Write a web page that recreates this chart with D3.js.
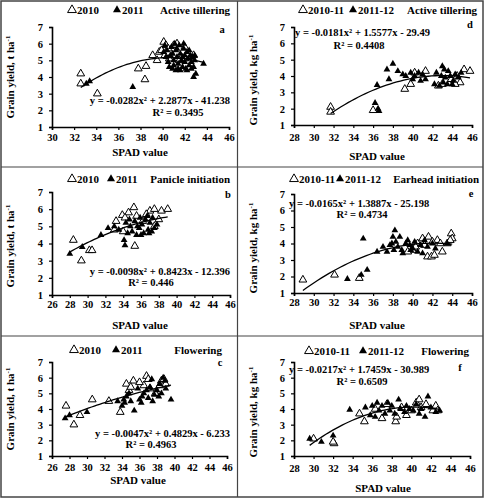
<!DOCTYPE html>
<html><head><meta charset="utf-8">
<script src="https://cdn.jsdelivr.net/npm/d3@7"></script>
<style>body{margin:0;background:#fff}svg text{font-family:"Liberation Serif","Times New Roman",serif;font-weight:bold;fill:#000}</style>
</head><body><svg id="c" width="485" height="500"></svg>
<script>
// ---------- DATA ----------
const xTicksA = [30,32,34,36,38,40,42,44,46];
const xTicksB = [26,28,30,32,34,36,38,40,42,44,46];
const xTicksD = [28,30,32,34,36,38,40,42,44,46];
const yTicks = [1,2,3,4,5,6,7];

// Panel a (Active tillering, 2010 / 2011)
const a2010 = [[32.6,4.2],[32.6,3.6],[34.1,3.0],[37.8,4.5],[38.5,4.65],[38.4,3.85],[39.1,5.3],[39.5,5.0],[39.7,5.5],
  [40.1,6.1],[40.3,5.9],[40.5,5.7],[40.2,5.3],[39.9,5.6],[40.6,5.1],[41.0,5.9],[41.3,6.0],[42.0,5.8],[42.8,5.3],[42.0,5.1],[41.5,5.0]];
const a2011 = [[33.1,3.6],[33.4,3.75],[37.3,3.4],
  [40.2,5.9],[40.4,5.6],[40.3,5.2],[40.5,4.9],[40.6,4.6],[40.8,5.8],[40.9,5.4],[41.0,5.0],[41.0,4.7],[41.1,6.0],[41.2,5.6],
  [41.3,5.2],[41.4,4.8],[41.4,4.5],[41.5,5.9],[41.6,5.4],[41.7,5.0],[41.8,4.6],[41.9,5.7],[42.0,5.3],[42.0,4.9],[42.1,4.5],
  [41.9,6.0],[42.2,5.5],[42.3,5.1],[42.4,4.7],[42.5,5.3],[42.6,4.9],[42.7,5.2],[42.8,4.6],[42.9,5.0],[42.8,4.0],[43.0,4.2],
  [43.7,4.8],[41.2,4.4],[40.7,5.3],[41.6,4.4],[42.2,4.4],[42.9,5.3],[40.1,5.5],[41.3,5.7],[42.4,5.6],[42.6,4.5],[40.9,4.5],[41.8,5.2]];

// Panel d (Active tillering, 2010-11 / 2011-12)
const d2010 = [[31.7,2.1],[31.7,1.8],[36.0,1.9],[39.2,3.2],[39.8,3.5],[41.3,4.3],[45.2,4.4],[45.8,4.3],[44.5,4.0],[44.8,3.6],
  [43.0,3.5],[42.6,3.4],[40.2,4.2],[43.9,3.8],[44.3,3.5]];
const d2011 = [[36.2,2.35],[36.5,2.0],[36.6,1.85],[36.4,3.45],[37.4,4.4],[37.6,3.8],[38.0,4.75],[38.5,4.3],[39.0,4.1],[39.3,4.0],
  [39.8,4.2],[40.2,4.0],[40.6,4.2],[40.8,3.7],[41.3,3.8],[42.2,3.5],[42.4,4.2],[42.7,3.4],[43.0,4.6],[43.2,4.4],[43.3,3.9],
  [43.5,3.5],[43.8,4.0],[44.1,3.7],[44.3,4.1],[44.6,3.9],[44.9,4.2],[43.1,3.6],[42.9,4.0],[43.6,4.3],[44.0,3.5],[40.0,3.8],[41.0,4.1]];

// Panel b (Panicle initiation, 2010 / 2011)
const b2010 = [[28.4,4.2],[29.3,3.0],[30.2,3.6],[30.5,3.6],[33.2,5.3],[33.9,5.65],[34.6,5.8],[35.2,6.1],[35.3,3.85],[37.0,5.9],
  [37.5,6.0],[38.3,5.9],[39.0,6.0],[38.0,5.4],[36.2,5.3],[37.5,5.0],[34.2,5.5],[35.5,5.6],[36.6,5.7],[34.0,4.7],[33.0,4.8]];
const b2011 = [[28.0,3.4],[29.4,3.8],[31.5,4.5],[32.3,4.9],[33.0,5.0],[33.5,4.8],[34.2,3.9],[34.1,4.2],[34.5,4.6],[34.8,5.0],
  [35.0,4.7],[35.3,5.3],[35.5,4.5],[35.8,4.9],[36.1,5.1],[36.3,4.6],[36.5,5.4],[36.7,5.6],[36.8,4.8],[37.0,5.2],[37.2,4.7],
  [37.3,5.5],[37.5,4.9],[37.8,5.1],[36.0,4.5],[34.7,5.4],[35.6,5.0],[36.9,4.6],[34.3,5.2],[35.9,5.5]];

// Panel e (Earhead initiation, 2010-11 / 2011-12)
const e2010 = [[28.9,1.8],[32.1,2.1],[34.6,1.9],[41.5,3.2],[41.9,3.2],[42.2,3.3],[43.0,3.5],[43.9,4.6],[44.0,4.3],[43.5,4.0],
  [42.5,4.2],[41.6,4.4],[40.5,4.0],[40.0,3.6],[42.0,4.1],[41.0,4.3],[39.5,3.5],[40.3,3.8],[43.8,4.2],[42.8,4.0],[41.2,3.9]];
const e2011 = [[33.4,1.85],[35.0,4.3],[34.8,2.1],[35.4,2.4],[36.4,3.5],[37.0,3.8],[37.4,3.5],[37.7,3.9],[38.0,4.4],[38.2,4.8],
  [38.3,4.1],[38.5,3.8],[38.7,4.4],[38.9,3.6],[39.0,3.4],[39.3,4.0],[39.5,4.2],[39.7,3.9],[40.0,3.7],[40.2,4.1],[40.5,3.5],
  [40.8,3.9],[41.0,3.4],[41.2,4.2],[41.5,3.8],[42.0,4.0],[42.3,3.7],[43.5,4.0],[37.9,4.0],[38.1,3.6],[39.8,3.6]];

// Panel c (Flowering, 2010 / 2011)
const c2010 = [[27.6,4.2],[28.5,3.0],[29.2,3.6],[30.6,4.6],[32.5,4.5],[33.8,3.8],[34.5,5.6],[35.3,5.8],[36.8,6.1],[36.5,5.5],
  [37.2,5.3],[38.5,5.8],[38.8,5.9],[38.3,5.5],[37.8,5.0],[36.0,5.7],[34.8,5.2],[39.0,5.6],[35.0,5.4],[37.0,5.9]];
const c2011 = [[27.5,3.4],[28.0,3.6],[30.0,3.8],[33.5,4.5],[34.0,4.2],[34.2,4.6],[34.5,4.8],[34.8,5.0],[35.0,4.5],[35.4,3.9],
  [36.0,4.6],[36.3,4.8],[36.5,5.0],[36.8,5.2],[37.0,4.7],[37.2,5.4],[37.5,4.5],[37.7,4.9],[38.0,5.2],[38.3,5.6],[38.5,5.0],
  [38.7,6.0],[38.9,5.8],[39.0,5.3],[39.6,4.6],[37.4,5.9],[36.2,4.4],[35.8,5.3],[38.2,4.8],[34.3,4.4]];

// Panel f (Flowering, 2010-11 / 2011-12)
const f2010 = [[30.0,2.1],[32.1,1.8],[32.0,1.9],[34.7,3.7],[35.2,3.2],[37.0,3.4],[38.4,3.2],[38.5,3.5],[39.5,3.6],[40.5,4.4],
  [40.8,4.6],[41.5,4.3],[42.2,3.9],[42.5,4.2],[42.7,3.9],[36.3,4.0],[37.5,4.3],[39.0,4.1],[40.0,3.9],[41.0,4.1]];
const f2011 = [[29.6,2.1],[30.8,1.9],[32.0,2.3],[33.7,3.95],[35.3,4.1],[35.8,3.6],[36.0,4.2],[36.3,3.5],[36.7,3.9],[37.0,4.2],
  [37.3,3.7],[37.6,4.4],[37.8,3.9],[38.0,4.2],[38.3,3.7],[38.7,4.6],[38.9,4.0],[39.3,3.8],[39.5,4.2],[39.8,4.0],[40.2,3.9],
  [40.5,4.3],[41.0,4.0],[41.4,3.5],[41.7,4.8],[42.0,4.1],[42.5,3.8],[42.9,3.9],[36.5,4.4],[40.8,3.7]];

// Quadratic fit coefficients [a, b, c] and labels
const fitA = [-0.0282, 2.2877, -41.238], fitD = [-0.0181, 1.5577, -29.49];
const fitB = [-0.0098, 0.8423, -12.396], fitE = [-0.0165, 1.3887, -25.198];
const fitC = [-0.0047, 0.4829, -6.233], fitF = [-0.0217, 1.7459, -30.989];
const eqA = "y = -0.0282x² + 2.2877x - 41.238", r2A = "R² = 0.3495";
const eqD = "y = -0.0181x² + 1.5577x - 29.49", r2D = "R² = 0.4408";
const eqB = "y = -0.0098x² + 0.8423x - 12.396", r2B = "R² = 0.446";
const eqE = "y = -0.0165x² + 1.3887x - 25.198", r2E = "R² = 0.4734";
const eqC = "y = -0.0047x² + 0.4829x - 6.233", r2C = "R² = 0.4963";
const eqF = "y = -0.0217x² + 1.7459x - 30.989", r2F = "R² = 0.6509";
const stages = ["Active tillering","Active tillering","Panicle initiation","Earhead initiation","Flowering","Flowering"];
const seriesT = ["2010","2011"], seriesK = ["2010-11","2011-12"];

// ---------- LAYOUT ----------
const svg = d3.select("#c");
svg.append("rect").attr("x",1).attr("y",1).attr("width",482).attr("height",496).attr("fill","none").attr("stroke","#444").attr("stroke-width",1.5);
svg.append("line").attr("x1",237.5).attr("x2",237.5).attr("y1",1).attr("y2",497).attr("stroke","#444").attr("stroke-width",1.2);
svg.append("line").attr("x1",1).attr("x2",483).attr("y1",167).attr("y2",167).attr("stroke","#444").attr("stroke-width",1.2);
svg.append("line").attr("x1",1).attr("x2",483).attr("y1",336).attr("y2",336).attr("stroke","#444").attr("stroke-width",1.2);

const panels = [
 {open:a2010, fill:a2011, fit:fitA, eq:eqA, r2:r2A, stage:stages[0], letter:"a", ser:seriesT, unit:"t", xt:xTicksA,
  ax:[52,229], ay:[127,27], legY:13, leg:[[72,"o"],[117,"f"]], stX:230, letXY:[222,33], eqXY:[230,104,"end"], r2XY:[178,116],
  yTitle:[14,77], xTitle:[140,156], lblY:139},
 {open:d2010, fill:d2011, fit:fitD, eq:eqD, r2:r2D, stage:stages[1], letter:"d", ser:seriesK, unit:"kg", xt:xTicksD,
  ax:[294,472], ay:[125,27], legY:13, leg:[[303,"o"],[353,"f"]], stX:477, letXY:[470,28], eqXY:[295,36,"start"], r2XY:[359,49],
  yTitle:[257,80], xTitle:[377,160], lblY:139},
 {open:b2010, fill:b2011, fit:fitB, eq:eqB, r2:r2B, stage:stages[2], letter:"b", ser:seriesT, unit:"t", xt:xTicksB,
  ax:[52,230], ay:[295,192], legY:182, leg:[[72,"o"],[111,"f"]], stX:230, letXY:[228,198], eqXY:[230,275,"end"], r2XY:[151,286],
  yTitle:[14,246], xTitle:[140,329], lblY:306},
 {open:e2010, fill:e2011, fit:fitE, eq:eqE, r2:r2E, stage:stages[3], letter:"e", ser:seriesK, unit:"kg", xt:xTicksD,
  ax:[294,472], ay:[293,194], legY:182, leg:[[294,"o"],[340,"f"]], stX:479, letXY:[471,197], eqXY:[289,207,"start"], r2XY:[362,218],
  yTitle:[257,248], xTitle:[377,329], lblY:304},
 {open:c2010, fill:c2011, fit:fitC, eq:eqC, r2:r2C, stage:stages[4], letter:"c", ser:seriesT, unit:"t", xt:xTicksB,
  ax:[52,227], ay:[456,362], legY:353, leg:[[74,"o"],[116,"f"]], stX:222, letXY:[220,366], eqXY:[230,437,"end"], r2XY:[151,448],
  yTitle:[14,409], xTitle:[138,484], lblY:469},
 {open:f2010, fill:f2011, fit:fitF, eq:eqF, r2:r2F, stage:stages[5], letter:"f", ser:seriesK, unit:"kg", xt:xTicksD,
  ax:[294,470], ay:[456,362], legY:354, leg:[[309,"o"],[363,"f"]], stX:469, letXY:[460,371], eqXY:[289,373,"start"], r2XY:[362,385],
  yTitle:[257,412], xTitle:[383,492], lblY:470}
];

const triOpen = d3.symbol().type(d3.symbolTriangle).size(26);
const triFill = d3.symbol().type(d3.symbolTriangle).size(20);
const fs = "10.5px";

panels.forEach(p => {
  const g = svg.append("g");
  const x = d3.scaleLinear().domain([p.xt[0], p.xt[p.xt.length-1]]).range(p.ax);
  const y = d3.scaleLinear().domain([1,7]).range(p.ay);

  // axes
  const yAx = g.append("g").attr("transform",`translate(${p.ax[0]},0)`)
    .call(d3.axisLeft(y).tickValues(yTicks).tickSize(3).tickPadding(6).tickFormat(d3.format("d")));
  const xAx = g.append("g").attr("transform",`translate(0,${p.ay[0]})`)
    .call(d3.axisBottom(x).tickValues(p.xt).tickSize(3).tickPadding(p.lblY - p.ay[0] - 8).tickFormat(d3.format("d")));
  [yAx,xAx].forEach(a => {
    a.select(".domain").attr("stroke","#000").attr("stroke-width",1.6);
    a.selectAll(".tick line").attr("stroke","#000").attr("stroke-width",1.2);
    a.selectAll("text").attr("font-size","10.5px").attr("font-family",'"Liberation Serif",serif').attr("font-weight","bold").attr("fill","#000");
  });

  // points
  g.selectAll(".po").data(p.open).join("path").attr("d",triOpen)
    .attr("transform",d=>`translate(${x(d[0])},${y(d[1])})`).attr("fill","#fff").attr("stroke","#000").attr("stroke-width",1);
  g.selectAll(".pf").data(p.fill).join("path").attr("d",triFill)
    .attr("transform",d=>`translate(${x(d[0])},${y(d[1])})`).attr("fill","#000");

  // fit curve
  const all = p.open.concat(p.fill);
  const xmin = d3.min(all,d=>d[0]), xmax = d3.max(all,d=>d[0]);
  const f = v => p.fit[0]*v*v + p.fit[1]*v + p.fit[2];
  const xs = d3.range(0,41).map(i => xmin + (xmax-xmin)*i/40);
  g.append("path").attr("d", d3.line().x(v=>x(v)).y(v=>y(f(v)))(xs))
    .attr("fill","none").attr("stroke","#000").attr("stroke-width",1.3);

  // legend
  p.leg.forEach((l,i) => {
    g.append("path").attr("d", i===0 ? triOpen.size(34)() : triFill.size(28)())
      .attr("transform",`translate(${l[0]},${p.legY-3})`)
      .attr("fill", i===0 ? "#fff" : "#000").attr("stroke", i===0 ? "#000" : "none").attr("stroke-width",1);
    g.append("text").attr("x",l[0]+5).attr("y",p.legY+1).attr("font-size","11px").text(p.ser[i]);
  });
  triOpen.size(26); triFill.size(20);
  g.append("text").attr("x",p.stX).attr("y",p.legY+1).attr("text-anchor","end").attr("font-size","11px").text(p.stage);
  g.append("text").attr("x",p.letXY[0]).attr("y",p.letXY[1]).attr("text-anchor","middle").attr("font-size","10.5px").attr("font-weight","normal").text(p.letter);

  // equation
  g.append("text").attr("x",p.eqXY[0]).attr("y",p.eqXY[1]).attr("text-anchor",p.eqXY[2]).attr("font-size",fs).text(p.eq);
  g.append("text").attr("x",p.r2XY[0]).attr("y",p.r2XY[1]).attr("text-anchor","middle").attr("font-size",fs).text(p.r2);

  // titles
  const yt = g.append("text").attr("transform",`translate(${p.yTitle[0]},${p.yTitle[1]}) rotate(-90)`)
    .attr("text-anchor","middle").attr("font-size","11px");
  yt.append("tspan").text(`Grain yield, ${p.unit} ha`);
  yt.append("tspan").attr("dy",-4).attr("font-size","7px").text("-1");
  g.append("text").attr("x",p.xTitle[0]).attr("y",p.xTitle[1]).attr("text-anchor","middle").attr("font-size","11px").text("SPAD value");
});
</script></body></html>
